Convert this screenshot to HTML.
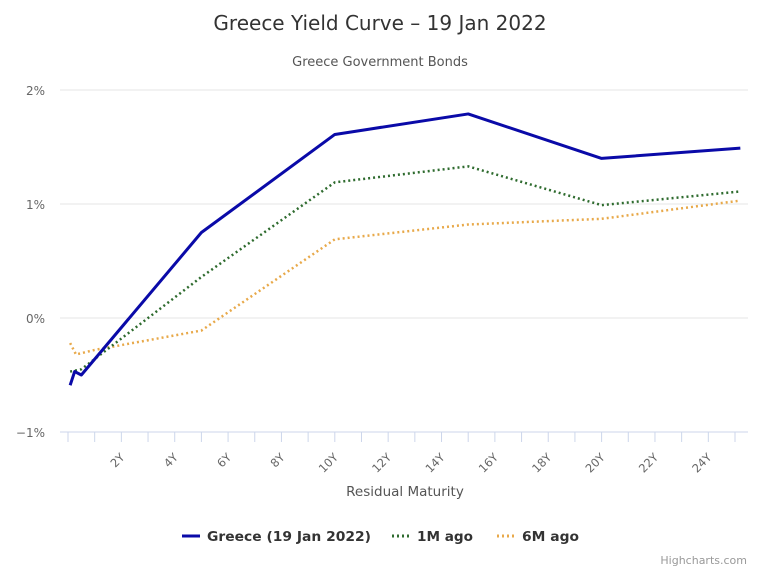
<!DOCTYPE html>
<html><head><meta charset="utf-8"><style>
body{margin:0;background:#fff;font-family:"DejaVu Sans",sans-serif}
svg text{font-family:"DejaVu Sans",sans-serif}
</style></head><body>
<svg width="760" height="570">
<text x="380" y="30" text-anchor="middle" font-size="20" fill="#333">Greece Yield Curve – 19 Jan 2022</text>
<text x="380" y="66" text-anchor="middle" font-size="13" fill="#555">Greece Government Bonds</text>
<g id="grid"></g><g id="xaxis"></g><g id="series"></g>
<text x="405" y="496" text-anchor="middle" font-size="13.5" fill="#555">Residual Maturity</text>
<g>
<g><line x1="182" y1="536" x2="200" y2="536" stroke="#0a0aa8" stroke-width="3"/><text x="207" y="541" font-size="13.5" font-weight="600" fill="#333" textLength="164" lengthAdjust="spacingAndGlyphs">Greece (19 Jan 2022)</text></g>
<g><line x1="392" y1="536" x2="410" y2="536" stroke="#2e6b2e" stroke-width="3" stroke-dasharray="2,3"/><text x="417" y="541" font-size="13.5" font-weight="600" fill="#333" textLength="56" lengthAdjust="spacingAndGlyphs">1M ago</text></g>
<g><line x1="497" y1="536" x2="515" y2="536" stroke="#e8a94a" stroke-width="3" stroke-dasharray="2,3"/><text x="522" y="541" font-size="13.5" font-weight="600" fill="#333" textLength="57" lengthAdjust="spacingAndGlyphs">6M ago</text></g>
</g>
<text x="747" y="564" text-anchor="end" font-size="11" fill="#999">Highcharts.com</text>
</svg>
<script>
const yTicks=[-1,0,1,2];
const xTickLabels=[2,4,6,8,10,12,14,16,18,20,22,24];
const greeceX=[0.08,0.25,0.5,5,10,15,20,25.2];
const greeceY=[-0.59,-0.47,-0.5,0.75,1.61,1.79,1.40,1.49];
const m1X=[0.08,0.5,5,10,15,20,25.2];
const m1Y=[-0.47,-0.45,0.36,1.19,1.33,0.99,1.11];
const m6X=[0.08,0.3,1,5,10,15,20,25.2];
const m6Y=[-0.22,-0.32,-0.28,-0.11,0.69,0.82,0.87,1.03];
const NS="http://www.w3.org/2000/svg";
const xs=v=>68+v*26.68, ys=v=>318-v*114;
function mk(tag,attrs,parent){const e=document.createElementNS(NS,tag);for(const k in attrs)e.setAttribute(k,attrs[k]);parent.appendChild(e);return e;}
const grid=document.getElementById('grid');
yTicks.forEach(t=>{
  const l=mk('line',{x1:60,x2:748,y1:ys(t),y2:ys(t),stroke:t===-1?'#ccd6eb':'#e6e6e6'},grid);
  
  
  const tx=mk('text',{x:45,y:ys(t)+5,'text-anchor':'end','font-size':12,fill:'#666'},grid);
  tx.textContent=(t<0?'−':'')+Math.abs(t)+'%';
  
  
});
const xa=document.getElementById('xaxis');
for(let i=0;i<=25;i++){
  const t=mk('line',{x1:xs(i),x2:xs(i),y1:432,y2:442,stroke:'#ccd6eb'},xa);
  
  
}
xTickLabels.forEach(v=>{
  const x=xs(v)+4,y=450;
  const tx=mk('text',{x:x,y:y+8,'text-anchor':'end','font-size':11.5,fill:'#666',transform:`rotate(-45 ${x} ${y+8})`},xa);
  tx.textContent=v+'Y';
  
  
});
const sg=document.getElementById('series');
function line(X,Y,color,w,dash,name){
  const p=mk('polyline',{points:X.map((x,i)=>xs(x)+','+ys(Y[i])).join(' '),fill:'none',stroke:color,'stroke-width':w,'stroke-linejoin':'round'},sg);
  if(dash)p.setAttribute('stroke-dasharray',dash);
  
  
}
line(m6X,m6Y,'#e8a94a',2.5,'2,3','series-6m-ago');
line(m1X,m1Y,'#2e6b2e',2.5,'2,3','series-1m-ago');
line(greeceX,greeceY,'#0a0aa8',3,null,'series-greece');
</script>
</body></html>
